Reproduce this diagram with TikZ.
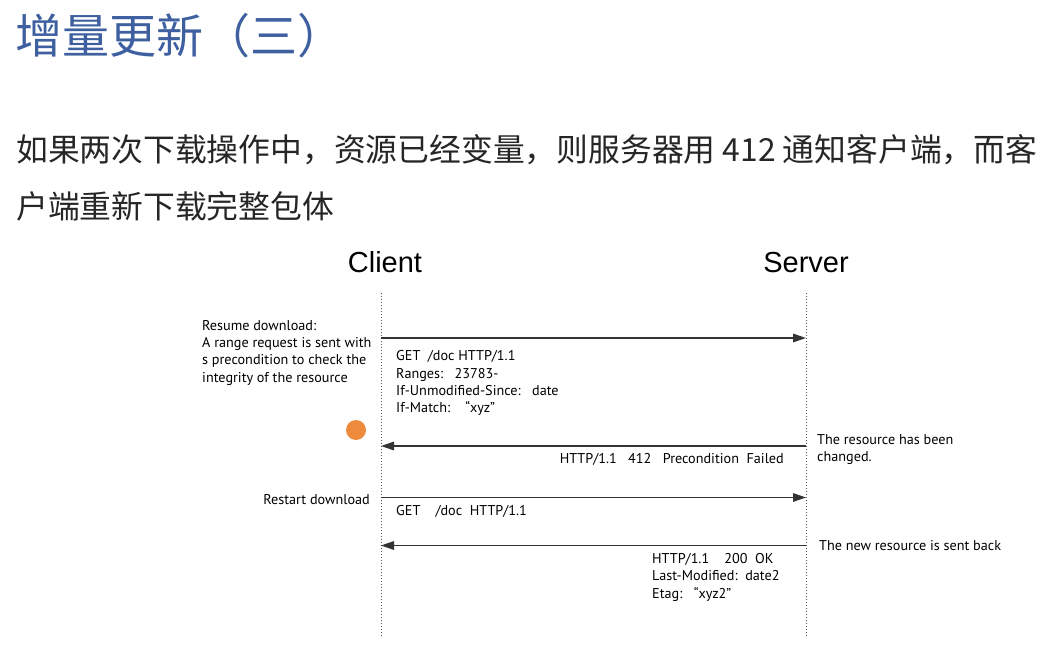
\documentclass[tikz,border=0pt]{standalone}
\usepackage{fontspec}
\setmainfont{Noto Sans CJK SC}
\newfontfamily\cjk{Noto Sans CJK SC}
\newfontfamily\lab{PT Sans}
\newfontfamily\hdr{Liberation Sans}
\usetikzlibrary{arrows.meta}
\definecolor{titleblue}{HTML}{3E5FA0}
\definecolor{bodygray}{HTML}{262626}
\definecolor{linegray}{HTML}{333333}
\definecolor{cursororange}{HTML}{EE8A3C}
\begin{document}
\begin{tikzpicture}[x=1pt,y=-1pt,
  lifeline/.style={dotted, line width=1pt, draw=linegray!85},
  msg/.style={line width=1.5pt, draw=linegray, -{Triangle[length=13pt,width=8.5pt]}},
  lbl/.style={font=\lab\fontsize{14.2}{17.3}\selectfont, text=black, inner sep=0pt, align=left},
  hdr/.style={font=\hdr\fontsize{29}{30}\selectfont, text=black, inner sep=0pt, anchor=base},
  title/.style={font=\cjk\fontsize{47}{50}\selectfont, text=titleblue, inner sep=0pt, anchor=base west},
  body/.style={font=\cjk\fontsize{31.8}{36}\selectfont, text=bodygray, inner sep=0pt, anchor=base west},
]
\useasboundingbox[fill=white] (0,0) rectangle (1045,653);

% title and body text
\node[title] (ttl) at (15,53) {增量更新（三）};
\node[body] (b1) at (16,161) {如果两次下载操作中，资源已经变量，则服务器用 412 通知客户端，而客};
\node[body] (b2) at (16,218) {户端重新下载完整包体};

% headers
\node[hdr] (client) at (385,272) {Client};
\node[hdr] (server) at (806,272) {Server};

% lifelines
\coordinate (ctop) at (381,293);
\coordinate (cbot) at (381,637);
\coordinate (stop) at (806,293);
\coordinate (sbot) at (806,637);
\draw[lifeline] (ctop) -- (cbot);
\draw[lifeline] (stop) -- (sbot);

% message end points
\coordinate (c1) at (381,338);  \coordinate (s1) at (806,338);
\coordinate (c2) at (381,446);  \coordinate (s2) at (806,446);
\coordinate (c3) at (381,497.5);\coordinate (s3) at (806,497.5);
\coordinate (c4) at (381,545.5);\coordinate (s4) at (806,545.5);

\draw[msg] (c1) -- (s1);
\draw[msg] (s2) -- (c2);
\draw[msg] (c3) -- (s3);
\draw[msg] (s4) -- (c4);

% labels
\node[lbl, anchor=north west] (resume) at (202,320)
  {Resume download:\\A range request is sent with\\s precondition to check the\\integrity of the resource};
\node[lbl, anchor=north west] (req1) at (396,350.6)
  {GET\ \ /doc HTTP/1.1\\Ranges:\ \ \ 23783-\\If-Unmodified-Since:\ \ \ date\\If-Match:\ \ \ \ “xyz”};
\node[lbl, anchor=north west] (changed) at (817,434)
  {The resource has been\\changed.};
\node[lbl, anchor=base east] (fail) at (784,463.3)
  {HTTP/1.1\ \ \ 412\ \ \ Precondition\ \ Failed};
\node[lbl, anchor=base east] (restart) at (370,504.3) {Restart download};
\node[lbl, anchor=base west] (req2) at (396,515) {GET\ \ \ \ /doc\ \ HTTP/1.1};
\node[lbl, anchor=base west] (newres) at (819,550.7) {The new resource is sent back};
\node[lbl, anchor=north west] (resp) at (652,553.3)
  {HTTP/1.1\ \ \ \ 200\ \ OK\\Last-Modified:\ \ date2\\Etag:\ \ \ “xyz2”};

% screen cursor marker
\node[circle, fill=cursororange, minimum size=20pt, inner sep=0pt] (cursor) at (356,430) {};
\end{tikzpicture}
\end{document}
